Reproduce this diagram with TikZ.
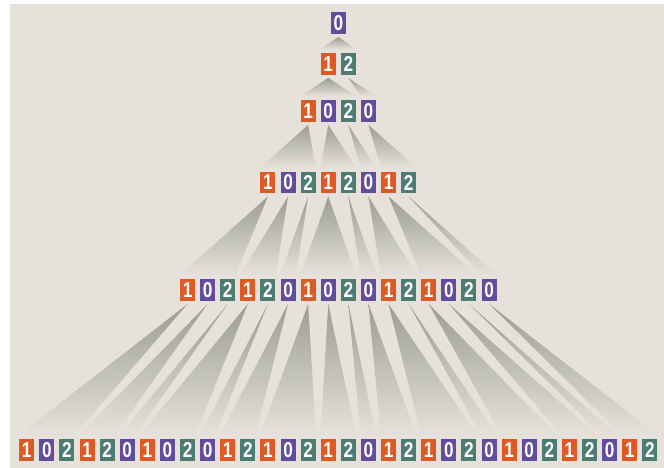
\documentclass[tikz,border=0pt]{standalone}
\usepackage{fontspec}
\newfontfamily\digitfont[FakeStretch=0.8]{Liberation Sans Bold}
\definecolor{bgc}{HTML}{E6E2DB}
\definecolor{wedge}{HTML}{9B9E8E}
\definecolor{czero}{HTML}{624C9C}
\definecolor{cone}{HTML}{DD5A24}
\definecolor{ctwo}{HTML}{4C7C72}
\tikzset{
  cellbase/.style={rectangle, minimum width=15pt, minimum height=21.5pt, inner sep=0pt,
    text=white, font=\digitfont\fontsize{21.5}{21.5}\selectfont},
  cell0/.style={cellbase, fill=czero},
  cell1/.style={cellbase, fill=cone},
  cell2/.style={cellbase, fill=ctwo},
  wedgeshade/.style={top color=wedge, bottom color=bgc, draw=none}
}
\begin{document}
\begin{tikzpicture}[x=1pt,y=-1pt]
\useasboundingbox (0,0) rectangle (664,468);
\fill[white] (0,0) rectangle (664,468);
\fill[bgc] (10,4) rectangle (664,468);
% rows
\foreach \d [count=\i from 0] in {0}
  \node[cell\d] (r0c\i) at ({338.3+(\i-0)*20.1},23) {\d};
\foreach \d [count=\i from 0] in {1,2}
  \node[cell\d] (r1c\i) at ({338.3+(\i-0.5)*20.1},64) {\d};
\foreach \d [count=\i from 0] in {1,0,2,0}
  \node[cell\d] (r2c\i) at ({338.3+(\i-1.5)*20.1},111) {\d};
\foreach \d [count=\i from 0] in {1,0,2,1,2,0,1,2}
  \node[cell\d] (r3c\i) at ({338.3+(\i-3.5)*20.1},182.5) {\d};
\foreach \d [count=\i from 0] in {1,0,2,1,2,0,1,0,2,0,1,2,1,0,2,0}
  \node[cell\d] (r4c\i) at ({338.3+(\i-7.5)*20.1},290) {\d};
\foreach \d [count=\i from 0] in {1,0,2,1,2,0,1,0,2,0,1,2,1,0,2,1,2,0,1,2,1,0,2,0,1,0,2,1,2,0,1,2}
  \node[cell\d] (r5c\i) at ({338.3+(\i-15.5)*20.1},450) {\d};
% wedges: parent row / parent index / first child / last child
\foreach \r/\p/\a/\b in {
  0/0/0/1,
  1/0/0/2, 1/1/3/3,
  2/0/0/2, 2/1/3/4, 2/2/5/5, 2/3/6/7,
  3/0/0/2, 3/1/3/4, 3/2/5/5, 3/3/6/8, 3/4/9/9, 3/5/10/11, 3/6/12/14, 3/7/15/15,
  4/0/0/2, 4/1/3/4, 4/2/5/5, 4/3/6/8, 4/4/9/9, 4/5/10/11, 4/6/12/14, 4/7/15/16,
  4/8/17/17, 4/9/18/19, 4/10/20/22, 4/11/23/23, 4/12/24/26, 4/13/27/28, 4/14/29/29, 4/15/30/31}{
  \pgfmathtruncatemacro{\c}{\r+1}
  \shade[wedgeshade] ([yshift=-3pt]r\r c\p.south) -- ([yshift=4pt]r\c c\b.north east)
    -- ([yshift=4pt]r\c c\a.north west) -- cycle;
}
\end{tikzpicture}
\end{document}
